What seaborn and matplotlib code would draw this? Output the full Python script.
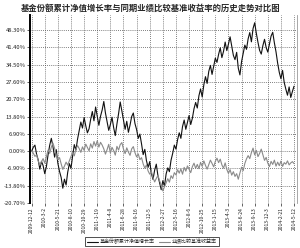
import matplotlib
matplotlib.use("Agg")
import matplotlib.pyplot as plt
import seaborn as sns
import pandas as pd
import numpy as np

title = "基金份额累计净值增长率与同期业绩比较基准收益率的历史走势对比图"
series_names = ["基金份额累计净值增长率", "业绩比较基准收益率"]

fund = [
    0.0, 1.5, 2.4, -1.2, -3.5, -7.2,
    -4.1, -5.8, -9.0, -6.2, -1.5, 2.3,
    5.1, 1.8, -2.4, 0.6, -4.9, -8.1,
    -10.5, -14.8, -11.2, -13.5, -8.4, -5.0,
    -6.8, -1.9, 2.6, 0.4, 4.8, 8.1,
    11.6, 9.2, 13.4, 10.1, 7.3, 8.9,
    12.7, 15.8, 12.1, 17.6, 14.0, 10.3,
    13.9, 16.4, 19.8, 15.2, 11.7, 8.3,
    10.6, 13.5, 9.4, 6.2, 10.8, 14.9,
    19.6, 16.1, 12.3, 8.7, 11.9, 7.5,
    10.4, 13.8, 15.2, 11.0, 8.6, 5.1,
    6.8, 2.9, -1.4, 0.7, -3.8, -6.5,
    -4.2, -8.9, -11.3, -7.6, -5.2, -9.8,
    -12.6, -15.4, -11.8, -13.9, -9.1, -6.7,
    -8.2, -3.6, -0.9, 2.4, 0.8, 4.6,
    7.3, 5.1, 9.8, 12.4, 8.7, 11.5,
    14.2, 10.6, 13.1, 16.9, 19.4, 17.2,
    22.1, 24.8, 21.6, 26.5, 29.7, 27.0,
    31.8, 34.2, 30.6, 33.9, 37.1, 35.4,
    38.6, 41.2, 37.3, 39.8, 43.5, 40.1,
    42.7, 45.6, 41.9, 38.2, 36.5, 39.4,
    33.1, 30.4, 35.7, 38.9, 42.3, 40.6,
    44.8, 47.3, 43.6, 48.9, 51.2, 47.0,
    43.4, 40.2, 38.7, 42.1, 44.6, 41.3,
    39.5, 42.8, 45.9, 47.4, 43.2, 39.6,
    35.1, 31.4, 28.9, 32.2, 27.4, 24.7,
    22.3, 25.6, 21.4, 23.8, 25.9,
]

benchmark = [
    0.0, -0.8, -2.1, -1.5, -3.9, -5.6,
    -4.2, -3.0, -4.8, -2.2, 0.4, -0.9,
    1.6, 3.2, 1.1, -1.8, -3.4, -2.6,
    -5.1, -7.3, -6.0, -4.4, -5.6, -3.8,
    -2.1, -0.6, -1.9, 0.8, 2.2, 1.0,
    -0.5, 1.7, 0.3, 2.8, 1.4, 0.1,
    2.9, 1.2, 3.8, 2.0, 4.1, 1.6,
    3.5, 2.4, 0.9, -1.2, 0.6, 2.7,
    -0.8, 1.5, 0.2, -1.6, 1.9, 0.4,
    2.6, 3.4, 0.8, -1.0, 1.3, -0.4,
    -1.7, 0.9, 1.8, -0.6, -2.3, -1.1,
    -3.4, -2.6, -5.1, -6.8, -5.5, -7.9,
    -9.2, -8.1, -10.6, -12.3, -10.9, -9.7,
    -11.8, -13.6, -15.9, -14.2, -12.7, -11.0,
    -12.4, -9.8, -10.9, -8.6, -9.5, -7.4,
    -8.8, -7.1, -9.2, -6.5, -8.0, -5.9,
    -7.3, -8.6, -6.2, -4.8, -6.9, -5.3,
    -7.0, -4.5, -6.1, -3.9, -5.7, -7.2,
    -5.4, -3.6, -4.9, -6.3, -4.1, -2.8,
    -4.6, -3.2, -5.5, -6.8, -4.7, -7.3,
    -8.9, -7.4, -9.6, -8.2, -10.1, -9.0,
    -11.2, -8.7, -6.4, -7.8, -4.9, -3.1,
    -1.8, -3.0, -0.6, 1.2, -1.5, 0.3,
    -2.2, -0.9, 0.8, -1.4, -3.7, -2.5,
    -4.8, -6.2, -4.1, -5.3, -3.6, -6.0,
    -4.4, -5.8, -4.0, -6.1, -4.6, -5.2,
    -3.9, -5.5, -4.7, -4.2, -5.0,
]

date_labels = [
    "2009-12-12", "2010-3-2", "2010-5-21", "2010-8-10", "2010-10-29",
    "2011-1-19", "2011-4-8", "2011-6-28", "2011-9-16", "2011-12-5",
    "2012-2-27", "2012-5-16", "2012-8-6", "2012-10-25", "2013-1-15",
    "2013-4-3", "2013-6-24", "2013-9-13", "2013-12-3", "2014-2-21",
    "2014-5-12",
]

y_ticks = [48.3, 41.4, 34.5, 27.6, 20.7, 13.8, 6.9, 0.0, -6.9, -13.8, -20.7]

sns.set_style("white")
plt.rcParams['font.family'] = ['Noto Sans CJK SC', 'DejaVu Sans']

n = len(fund)
df = pd.DataFrame({
    "idx": list(range(n)) * 2,
    "value": fund + benchmark,
    "series": [series_names[0]] * n + [series_names[1]] * n,
})

fig = plt.figure(figsize=(3.0, 2.48), dpi=100)
ax = fig.add_axes([30/300, 1 - 203/248, 267/300, (203 - 15)/248])

sns.lineplot(data=df, x="idx", y="value", hue="series", ax=ax,
             palette={series_names[0]: "#111111", series_names[1]: "#8a8a8a"},
             linewidth=0.8, legend=False, zorder=3)

step = (n - 1) / (len(date_labels) - 1)
ax.set_xticks([i * step for i in range(len(date_labels))])
ax.set_xticklabels(date_labels, rotation=90, fontsize=3.6)
ax.set_xlim(-1.0, (n - 1) + 1.8)

ax.set_yticks(y_ticks)
ax.set_yticklabels([f"{v:.2f}%" for v in y_ticks], fontsize=4.2)
ax.set_ylim(-20.7, 54.3)

ax.set_xlabel("")
ax.set_ylabel("")
ax.grid(True, linestyle=(0, (1, 1.5)), linewidth=0.6, color="#555555")
ax.tick_params(axis="both", which="both", length=2, width=0.5, pad=1,
               colors="#222222", bottom=True, left=True)

ax.spines["left"].set_linewidth(1.4)
ax.spines["left"].set_color("black")
ax.spines["top"].set_visible(False)
ax.spines["bottom"].set_visible(False)
ax.spines["right"].set_color("#999999")
ax.spines["right"].set_linewidth(0.6)

fig.text(0.503, 1 - 8/248, title, ha="center", va="center",
         fontsize=6, fontweight="bold")

from matplotlib.lines import Line2D
handles = [Line2D([], [], color="#111111", lw=0.8),
           Line2D([], [], color="#8a8a8a", lw=0.8)]
leg = fig.legend(handles, series_names, loc="center",
                 bbox_to_anchor=(0.505, 1 - 241.5/248), ncol=2,
                 fontsize=3.6, frameon=True, fancybox=False,
                 handlelength=2.2, handletextpad=0.4, columnspacing=0.8,
                 borderpad=0.4, edgecolor="black")
leg.get_frame().set_linewidth(0.6)

fig.savefig("out.png", dpi=100)
